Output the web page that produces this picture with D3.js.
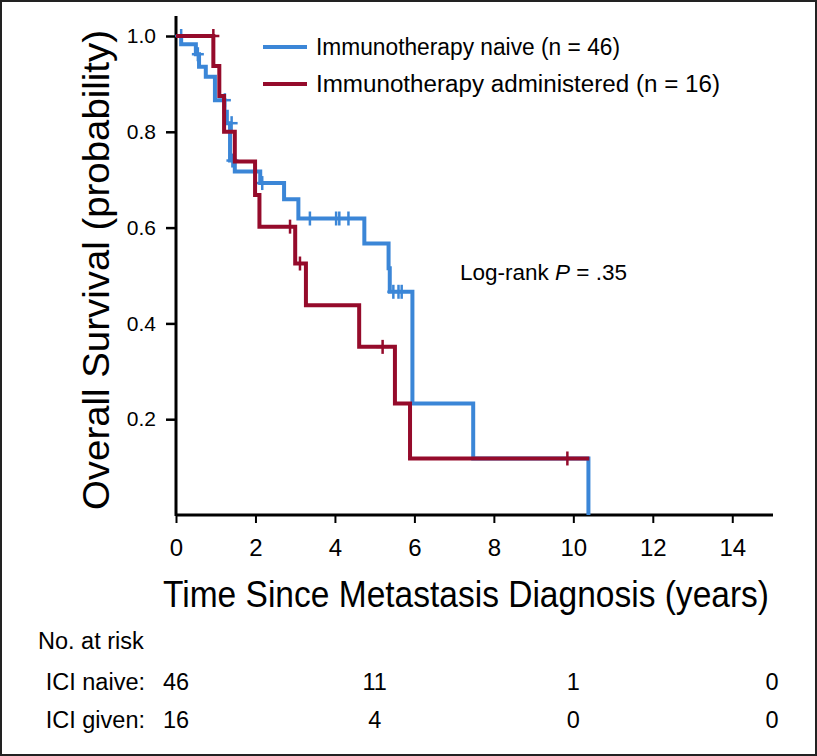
<!DOCTYPE html>
<html>
<head>
<meta charset="utf-8">
<script src="https://cdn.jsdelivr.net/npm/d3@7"></script>
<style>
  html, body { margin: 0; padding: 0; background: #fff; }
  svg { display: block; }
  text { font-family: "Liberation Sans", Arial, Helvetica, sans-serif; fill: #000; }
</style>
</head>
<body>
<svg id="chart" width="817" height="756"></svg>
<script>
// ---- Data ----
const naiveTimes = [0, 0.13, 0.50, 0.58, 0.75, 0.98, 1.22, 1.28, 1.36, 1.48, 2.12, 2.72, 3.08, 4.74, 5.35, 5.38, 5.95, 7.48, 10.38];
const naiveSurv  = [1.0, 0.983, 0.962, 0.936, 0.915, 0.866, 0.842, 0.818, 0.740, 0.717, 0.693, 0.659, 0.619, 0.567, 0.515, 0.466, 0.233, 0.118, 0.0];
const naiveCensorTimes = [0.13, 0.55, 1.23, 1.40, 1.42, 2.17, 3.37, 4.03, 4.11, 4.34, 5.47, 5.60, 5.68];
const naiveCensorSurv  = [1.0, 0.962, 0.866, 0.818, 0.740, 0.693, 0.619, 0.619, 0.619, 0.619, 0.466, 0.466, 0.466];

const givenTimes = [0, 0.94, 1.09, 1.21, 1.48, 1.99, 2.10, 3.00, 3.27, 4.61, 5.51, 5.89, 10.40];
const givenSurv  = [1.0, 0.9375, 0.875, 0.80, 0.738, 0.668, 0.602, 0.525, 0.438, 0.351, 0.233, 0.118, 0.118];
const givenCensorTimes = [0.94, 2.87, 3.12, 5.20, 9.85];
const givenCensorSurv  = [1.0, 0.602, 0.525, 0.351, 0.118];

const xTicks = [0, 2, 4, 6, 8, 10, 12, 14];
const yTicks = [1.0, 0.8, 0.6, 0.4, 0.2];
const yTickLabels = ["1.0", "0.8", "0.6", "0.4", "0.2"];

const legendLabels = ["Immunotherapy naive (n = 46)", "Immunotherapy administered (n = 16)"];
const seriesColors = ["#3b86d7", "#950b2b"];

const riskTimes = [0, 5, 10, 15];
const riskRowLabels = ["ICI naive:", "ICI given:"];
const riskNaive = [46, 11, 1, 0];
const riskGiven = [16, 4, 0, 0];

// ---- Layout ----
const svg = d3.select("#chart");
const x = d3.scaleLinear().domain([0, 15]).range([176, 772]);
const y = d3.scaleLinear().domain([0, 1]).range([515, 36]);

// frame border
svg.append("rect").attr("x", 1).attr("y", 1).attr("width", 815).attr("height", 754)
  .attr("fill", "none").attr("stroke", "#222").attr("stroke-width", 2);

// axes
const xAxis = svg.append("g").attr("transform", "translate(0,515)")
  .call(d3.axisBottom(x).tickValues(xTicks).tickSize(8).tickFormat(d3.format("d")));
xAxis.select(".domain").attr("stroke-width", 3).attr("d", "M176,0H773");
xAxis.selectAll(".tick line").attr("stroke-width", 2);
xAxis.selectAll(".tick text").attr("font-size", 24).attr("y", 24).attr("dy", "0.71em")
  .style("font-family", "'Liberation Sans', Arial, sans-serif");

const yAxis = svg.append("g").attr("transform", "translate(176,0)")
  .call(d3.axisLeft(y).tickValues(yTicks).tickSize(10).tickFormat((d, i) => yTickLabels[i]));
yAxis.select(".domain").attr("stroke-width", 3).attr("d", "M0,516V16");
yAxis.selectAll(".tick line").attr("stroke-width", 2.5);
yAxis.selectAll(".tick text").attr("font-size", 21).attr("x", -20)
  .style("font-family", "'Liberation Sans', Arial, sans-serif");

// axis titles
svg.append("text").attr("x", 466).attr("y", 607).attr("text-anchor", "middle")
  .attr("font-size", 36).attr("textLength", 606).attr("lengthAdjust", "spacingAndGlyphs")
  .text("Time Since Metastasis Diagnosis (years)");
svg.append("text").attr("transform", "translate(109,270) rotate(-90)").attr("text-anchor", "middle")
  .attr("font-size", 36).attr("textLength", 480).attr("lengthAdjust", "spacingAndGlyphs")
  .text("Overall Survival (probability)");

// curves
const line = d3.line().x(d => x(d[0])).y(d => y(d[1])).curve(d3.curveStepAfter);
const series = [
  { t: naiveTimes, s: naiveSurv, ct: naiveCensorTimes, cs: naiveCensorSurv, color: seriesColors[0] },
  { t: givenTimes, s: givenSurv, ct: givenCensorTimes, cs: givenCensorSurv, color: seriesColors[1] }
];
series.forEach(sr => {
  const pts = sr.t.map((t, i) => [t, sr.s[i]]);
  svg.append("path").attr("d", line(pts)).attr("fill", "none")
    .attr("stroke", sr.color).attr("stroke-width", 4);
  const g = svg.append("g").attr("stroke", sr.color).attr("stroke-width", 2.5);
  sr.ct.forEach((t, i) => {
    const cx = x(t), cy = y(sr.cs[i]);
    g.append("line").attr("x1", cx).attr("x2", cx).attr("y1", cy - 7).attr("y2", cy + 7);
    g.append("line").attr("x1", cx - 6).attr("x2", cx + 6).attr("y1", cy).attr("y2", cy);
  });
});

// legend
const legendY = [47, 84];
const legendWidths = [304, 404];
legendLabels.forEach((lab, i) => {
  svg.append("line").attr("x1", 263).attr("x2", 307).attr("y1", legendY[i]).attr("y2", legendY[i])
    .attr("stroke", seriesColors[i]).attr("stroke-width", 4);
  svg.append("text").attr("x", 316).attr("y", legendY[i] + 8).attr("font-size", 23)
    .attr("textLength", legendWidths[i]).attr("lengthAdjust", "spacingAndGlyphs").text(lab);
});

// log-rank annotation
const lr = svg.append("text").attr("x", 460).attr("y", 280).attr("font-size", 22.5);
lr.append("tspan").text("Log-rank ");
lr.append("tspan").attr("font-style", "italic").text("P");
lr.append("tspan").text(" = .35");

// risk table
svg.append("text").attr("x", 38).attr("y", 649).attr("font-size", 23.5).text("No. at risk");
const rowY = [690, 728];
[riskNaive, riskGiven].forEach((row, r) => {
  svg.append("text").attr("x", 145).attr("y", rowY[r]).attr("text-anchor", "end")
    .attr("font-size", 23.5).text(riskRowLabels[r]);
  row.forEach((v, i) => {
    svg.append("text").attr("x", x(riskTimes[i])).attr("y", rowY[r]).attr("text-anchor", "middle")
      .attr("font-size", 23.5).text(v);
  });
});
</script>
</body>
</html>
